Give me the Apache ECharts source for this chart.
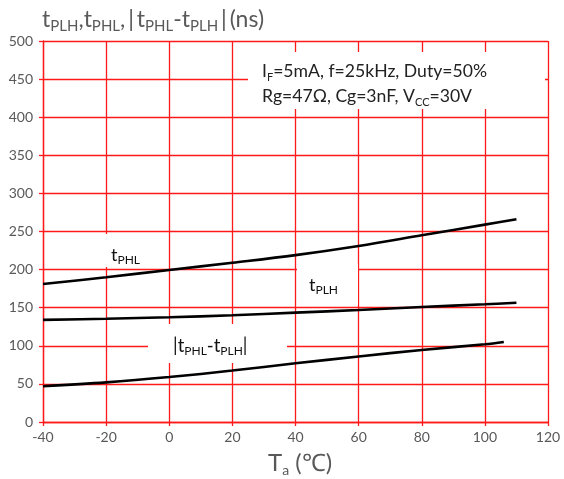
<!DOCTYPE html>
<html><head><meta charset="utf-8">
<script src="https://cdn.jsdelivr.net/npm/echarts@6/dist/echarts.min.js"></script>
<style>html,body{margin:0;padding:0;background:#fff}#c{width:564px;height:479px}</style>
</head><body><div id="c"></div>
<script>
var xTicks = [-40, -20, 0, 20, 40, 60, 80, 100, 120];
var yTicks = [0, 50, 100, 150, 200, 250, 300, 350, 400, 450, 500];
var tempX = [-40, -20, 0, 20, 40, 60, 80, 100, 110];
var tPHL = [181, 190, 199.5, 209, 219, 231, 245, 259, 266];
var tPLH = [134, 135.5, 137.5, 140, 143.5, 147, 151, 154.5, 156.5];
var diffX = [-40, -20, 0, 20, 40, 60, 80, 100, 106];
var tDiff = [47, 52, 59, 67.5, 77, 86, 94.5, 102, 105];

function pairs(xs, ys){ return xs.map(function(x,i){return [x, ys[i]];}); }

var FONT = 'Lato, "Open Sans", sans-serif';
var RED = '#ff1a1a';
var GRAY = '#595959';

function sub(size){ return {fontSize:size, fontFamily:FONT, verticalAlign:'bottom', lineHeight:size}; }
function main(size, lh, col){ return {fontSize:size, fontFamily:FONT, verticalAlign:'middle', lineHeight:lh, color:col}; }

var chart = echarts.init(document.getElementById('c'), null, {renderer:'canvas'});

var lineStyleCommon = {color:'#000', width:2.6};
function mkSeries(name, data){
  return {name:name, type:'line', data:data, smooth:0.35, symbol:'none', z:5,
          lineStyle:lineStyleCommon, itemStyle:{color:'#000'}};
}

chart.setOption({
  animation:false,
  grid:{left:43, right:16, top:41, bottom:57, containLabel:false},
  xAxis:{type:'value', min:xTicks[0], max:xTicks[xTicks.length-1], interval:20,
    axisLine:{show:true, onZero:false, lineStyle:{color:RED, width:1.3}},
    axisTick:{show:true, length:4, inside:false, lineStyle:{color:RED, width:1.3}},
    axisLabel:{color:GRAY, fontSize:14, fontFamily:FONT, margin:8},
    splitLine:{show:true, lineStyle:{color:RED, width:1.3}},
    name:'', },
  yAxis:{type:'value', min:yTicks[0], max:yTicks[yTicks.length-1], interval:50,
    axisLine:{show:true, onZero:false, lineStyle:{color:RED, width:1.3}},
    axisTick:{show:true, length:4, inside:false, lineStyle:{color:RED, width:1.3}},
    axisLabel:{color:GRAY, fontSize:14, fontFamily:FONT, margin:10},
    splitLine:{show:true, lineStyle:{color:RED, width:1.3}}},
  series:[
    mkSeries('tPHL', pairs(tempX, tPHL)),
    mkSeries('tPLH', pairs(tempX, tPLH)),
    mkSeries('diff', pairs(diffX, tDiff))
  ],
  graphic:[
    // white label boxes
    {type:'rect', z:3, shape:{x:248, y:52, width:297, height:57}, style:{fill:'#fff'}},
    {type:'rect', z:3, shape:{x:92, y:234, width:66, height:33}, style:{fill:'#fff'}},
    {type:'rect', z:3, shape:{x:297, y:264, width:61, height:41}, style:{fill:'#fff'}},
    {type:'rect', z:3, shape:{x:148, y:324, width:139, height:39}, style:{fill:'#fff'}},
    // axis title
    {type:'text', z:6, x:42, y:20, style:{
      text:'{m|t}{s|PLH}{m|,t}{s|PHL}{m|,\u2009|\u2009t}{s|PHL}{m|-t}{s|PLH}{m|\u2009|\u2009(ns)}',
      textVerticalAlign:'middle', fill:GRAY,
      rich:{m:main(23,28,GRAY), s:Object.assign(sub(15),{color:GRAY})}}},
    // conditions
    {type:'text', z:6, x:262, y:71, style:{
      text:'{m|I}{s|F}{m|=5mA, f=25kHz, Duty=50%}',
      textVerticalAlign:'middle', fill:'#222',
      rich:{m:main(17.6,23,'#222'), s:Object.assign(sub(11),{color:'#222'})}}},
    {type:'text', z:6, x:262, y:96, style:{
      text:'{m|Rg=47Ω, Cg=3nF, V}{s|CC}{m|=30V}',
      textVerticalAlign:'middle', fill:'#222',
      rich:{m:main(17.6,23,'#222'), s:Object.assign(sub(11),{color:'#222'})}}},
    // curve labels
    {type:'text', z:6, x:111, y:255, style:{
      text:'{m|t}{s|PHL}', textVerticalAlign:'middle', fill:'#111',
      rich:{m:main(18,23,'#111'), s:Object.assign(sub(12),{color:'#111'})}}},
    {type:'text', z:6, x:309, y:285, style:{
      text:'{m|t}{s|PLH}', textVerticalAlign:'middle', fill:'#111',
      rich:{m:main(18,23,'#111'), s:Object.assign(sub(12),{color:'#111'})}}},
    {type:'text', z:6, x:173, y:346, style:{
      text:'{m||t}{s|PHL}{m|-t}{s|PLH}{m||}', textVerticalAlign:'middle', fill:'#111',
      rich:{m:main(18.5,23,'#111'), s:Object.assign(sub(12),{color:'#111'})}}},
    // x axis name
    {type:'text', z:6, x:268, y:463, style:{
      text:'{m|T}{s|a}{m| (℃)}', textVerticalAlign:'middle', fill:GRAY,
      rich:{m:main(24,29,GRAY), s:Object.assign(sub(14),{color:GRAY})}}}
  ]
});
</script></body></html>
